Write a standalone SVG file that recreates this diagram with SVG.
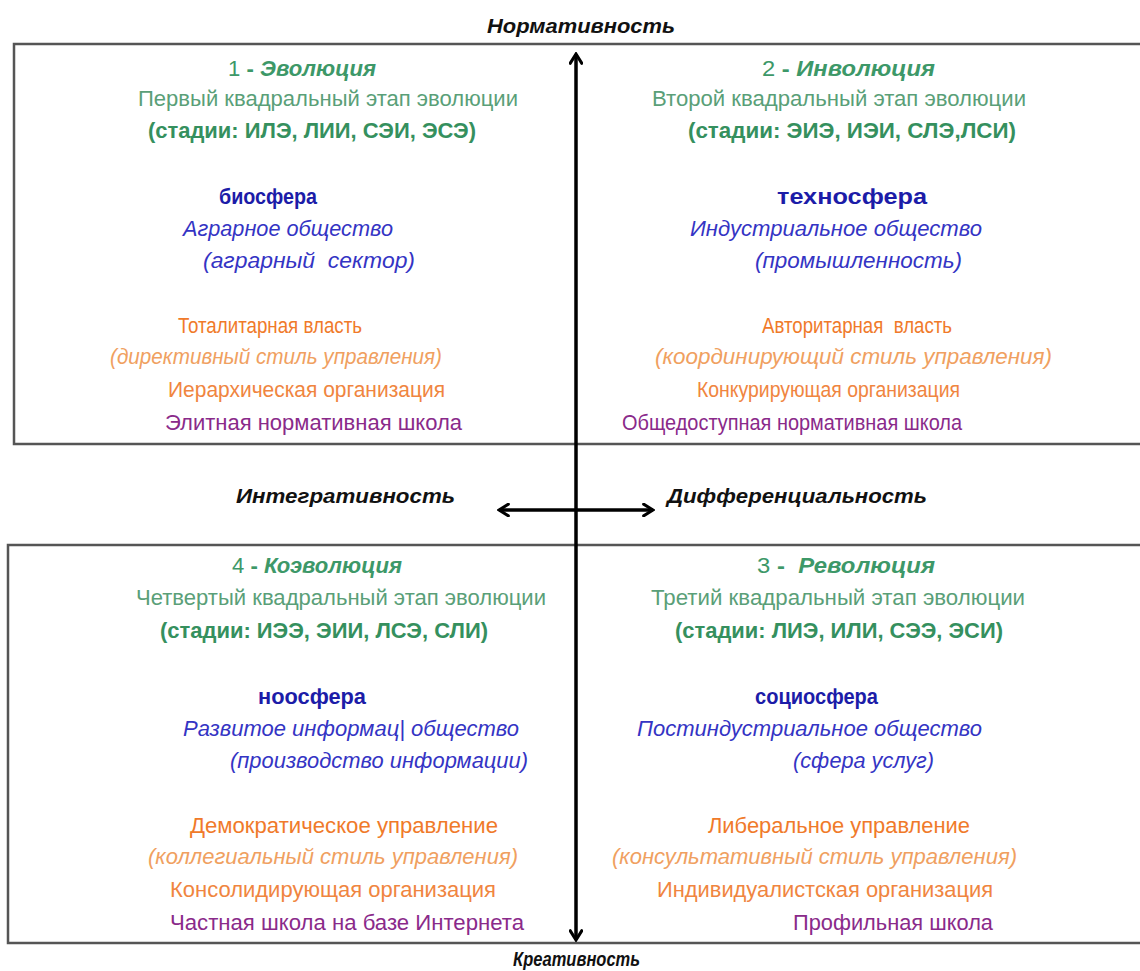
<svg xmlns="http://www.w3.org/2000/svg" width="1140" height="971" viewBox="0 0 1140 971">
<style>
text{font-family:"Liberation Sans",Arial,sans-serif;font-size:22px}
.ax{font-weight:bold;font-style:italic;fill:#111;font-size:20px}
.t{fill:#3d9868}
.sub{fill:#5a9f78}
.st{fill:#35905e;font-weight:bold}
.sph{fill:#1c1ca8;font-weight:bold}
.soc{fill:#3434c4;font-style:italic}
.pw{fill:#f07a2a}
.sty{fill:#f0a060;font-style:italic}
.org{fill:#f08540}
.sch{fill:#8a2a8a}
.box{fill:none;stroke:#555;stroke-width:2.5}
.axis{stroke:#000;stroke-width:3.5;fill:none}
</style>
<defs>
<marker id="ah" viewBox="0 0 12 12" refX="10" refY="6" markerWidth="4" markerHeight="4" orient="auto-start-reverse" markerUnits="strokeWidth">
<path d="M2,1 L10,6 L2,11" fill="none" stroke="#000" stroke-width="2.6" stroke-linecap="round" stroke-linejoin="miter"/>
</marker>
</defs>
<rect width="1140" height="971" fill="#fff"/>
<g id="frames">
<path class="box" d="M1142,44 H14 V444 H1142"/>
<path class="box" d="M1142,545 H8 V943 H1142"/>
</g>
<g id="connectors">
<line class="axis" x1="576" y1="940" x2="576" y2="54" marker-start="url(#ah)" marker-end="url(#ah)"/>
<line class="axis" x1="499" y1="510" x2="653" y2="510" marker-start="url(#ah)" marker-end="url(#ah)"/>
</g>
<g id="axis-labels">
<text class="ax" x="487" y="33" textLength="188" lengthAdjust="spacingAndGlyphs">Нормативность</text>
<text class="ax" x="513" y="966" textLength="127" lengthAdjust="spacingAndGlyphs">Креативность</text>
<text class="ax" x="236" y="503" textLength="219" lengthAdjust="spacingAndGlyphs">Интегративность</text>
<text class="ax" x="667" y="503" textLength="260" lengthAdjust="spacingAndGlyphs">Дифференциальность</text>
</g>
<g id="q1">
<text class="t" x="228" y="76" textLength="148" lengthAdjust="spacingAndGlyphs">1 <tspan font-weight="bold">-</tspan> <tspan font-weight="bold" font-style="italic">Эволюция</tspan></text>
<text class="sub" x="138" y="106" textLength="380" lengthAdjust="spacingAndGlyphs">Первый квадральный этап эволюции</text>
<text class="st" x="148" y="138" textLength="328" lengthAdjust="spacingAndGlyphs">(стадии: ИЛЭ, ЛИИ, СЭИ, ЭСЭ)</text>
<text class="sph" x="219" y="204" textLength="98" lengthAdjust="spacingAndGlyphs">биосфера</text>
<text class="soc" x="183" y="236" textLength="210" lengthAdjust="spacingAndGlyphs">Аграрное общество</text>
<text class="soc" x="203" y="268" textLength="212" lengthAdjust="spacingAndGlyphs" xml:space="preserve">(аграрный  сектор)</text>
<text class="pw" x="178" y="333" textLength="184" lengthAdjust="spacingAndGlyphs">Тоталитарная власть</text>
<text class="sty" x="110" y="364" textLength="332" lengthAdjust="spacingAndGlyphs">(директивный стиль управления)</text>
<text class="org" x="168" y="397" textLength="277" lengthAdjust="spacingAndGlyphs">Иерархическая организация</text>
<text class="sch" x="165" y="430" textLength="297" lengthAdjust="spacingAndGlyphs">Элитная нормативная школа</text>
</g>
<g id="q2">
<text class="t" x="762" y="76" textLength="173" lengthAdjust="spacingAndGlyphs">2 <tspan font-weight="bold">-</tspan> <tspan font-weight="bold" font-style="italic">Инволюция</tspan></text>
<text class="sub" x="652" y="106" textLength="374" lengthAdjust="spacingAndGlyphs">Второй квадральный этап эволюции</text>
<text class="st" x="688" y="138" textLength="328" lengthAdjust="spacingAndGlyphs">(стадии: ЭИЭ, ИЭИ, СЛЭ,ЛСИ)</text>
<text class="sph" x="777" y="204" textLength="150" lengthAdjust="spacingAndGlyphs">техносфера</text>
<text class="soc" x="690" y="236" textLength="292" lengthAdjust="spacingAndGlyphs">Индустриальное общество</text>
<text class="soc" x="755" y="268" textLength="207" lengthAdjust="spacingAndGlyphs">(промышленность)</text>
<text class="pw" x="762" y="333" textLength="190" lengthAdjust="spacingAndGlyphs" xml:space="preserve">Авторитарная  власть</text>
<text class="sty" x="655" y="364" textLength="397" lengthAdjust="spacingAndGlyphs">(координирующий стиль управления)</text>
<text class="org" x="697" y="397" textLength="263" lengthAdjust="spacingAndGlyphs">Конкурирующая организация</text>
<text class="sch" x="622" y="430" textLength="340" lengthAdjust="spacingAndGlyphs">Общедоступная нормативная школа</text>
</g>
<g id="q4">
<text class="t" x="232" y="573" textLength="170" lengthAdjust="spacingAndGlyphs">4 <tspan font-weight="bold">-</tspan> <tspan font-weight="bold" font-style="italic">Коэволюция</tspan></text>
<text class="sub" x="136" y="605" textLength="410" lengthAdjust="spacingAndGlyphs">Четвертый квадральный этап эволюции</text>
<text class="st" x="160" y="638" textLength="328" lengthAdjust="spacingAndGlyphs">(стадии: ИЭЭ, ЭИИ, ЛСЭ, СЛИ)</text>
<text class="sph" x="258" y="704" textLength="108" lengthAdjust="spacingAndGlyphs">ноосфера</text>
<text class="soc" x="183" y="736" textLength="336" lengthAdjust="spacingAndGlyphs">Развитое информац| общество</text>
<text class="soc" x="230" y="768" textLength="298" lengthAdjust="spacingAndGlyphs">(производство информации)</text>
<text class="pw" x="190" y="833" textLength="308" lengthAdjust="spacingAndGlyphs">Демократическое управление</text>
<text class="sty" x="148" y="864" textLength="370" lengthAdjust="spacingAndGlyphs">(коллегиальный стиль управления)</text>
<text class="org" x="170" y="897" textLength="326" lengthAdjust="spacingAndGlyphs">Консолидирующая организация</text>
<text class="sch" x="170" y="930" textLength="354" lengthAdjust="spacingAndGlyphs">Частная школа на базе Интернета</text>
</g>
<g id="q3">
<text class="t" x="757" y="573" textLength="178" lengthAdjust="spacingAndGlyphs" xml:space="preserve">3 <tspan font-weight="bold">-</tspan>  <tspan font-weight="bold" font-style="italic">Революция</tspan></text>
<text class="sub" x="651" y="605" textLength="374" lengthAdjust="spacingAndGlyphs">Третий квадральный этап эволюции</text>
<text class="st" x="675" y="638" textLength="328" lengthAdjust="spacingAndGlyphs">(стадии: ЛИЭ, ИЛИ, СЭЭ, ЭСИ)</text>
<text class="sph" x="755" y="704" textLength="123" lengthAdjust="spacingAndGlyphs">социосфера</text>
<text class="soc" x="637" y="736" textLength="345" lengthAdjust="spacingAndGlyphs">Постиндустриальное общество</text>
<text class="soc" x="793" y="768" textLength="141" lengthAdjust="spacingAndGlyphs">(сфера услуг)</text>
<text class="pw" x="708" y="833" textLength="262" lengthAdjust="spacingAndGlyphs">Либеральное управление</text>
<text class="sty" x="612" y="864" textLength="405" lengthAdjust="spacingAndGlyphs">(консультативный стиль управления)</text>
<text class="org" x="657" y="897" textLength="336" lengthAdjust="spacingAndGlyphs">Индивидуалистская организация</text>
<text class="sch" x="793" y="930" textLength="200" lengthAdjust="spacingAndGlyphs">Профильная школа</text>
</g>
</svg>
